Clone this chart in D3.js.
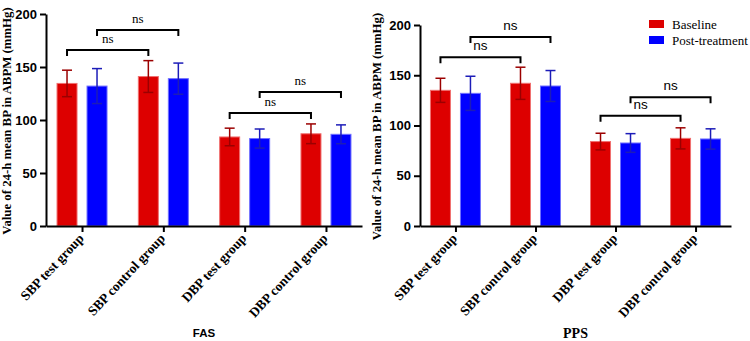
<!DOCTYPE html>
<html>
<head>
<meta charset="utf-8">
<script src="https://cdn.jsdelivr.net/npm/d3@7"></script>
<style>
  html, body { margin: 0; padding: 0; background: #fff; }
  svg { display: block; }
</style>
</head>
<body>
<svg id="chart" width="750" height="341"></svg>
<script>
// ---- data ----
const categories = ["SBP test group", "SBP control group", "DBP test group", "DBP control group"];
const seriesNames = ["Baseline", "Post-treatment"];
const yTicks = [0, 50, 100, 150, 200];

const fasBaseline = [134.5, 141, 84, 87];
const fasBaselineErr = [12.5, 15, 8.3, 9.3];
const fasPost = [132, 139, 82.5, 86.5];
const fasPostErr = [16.5, 14.7, 9, 8.9];
const fasBrackets = [[0, 0, 1, 0, 166], [0, 1, 1, 1, 185], [2, 0, 3, 0, 106.6], [2, 1, 3, 1, 126.4]];

const ppsBaseline = [135, 142, 84, 87.2];
const ppsBaselineErr = [12, 16, 8.3, 10.5];
const ppsPost = [132, 139.3, 82.6, 86.6];
const ppsPostErr = [17, 15.4, 9.3, 10.1];
const ppsBrackets = [[0, 0, 1, 0, 168], [0, 1, 1, 1, 188], [2, 0, 3, 0, 109.7], [2, 1, 3, 1, 128]];

const yTitle = "Value of 24-h mean BP in ABPM (mmHg)";
const sigLabel = "ns";

// ---- styles ----
const SERIF = "'Liberation Serif', 'Times New Roman', serif";
const SANS = "'Liberation Sans', Arial, sans-serif";
const fills = ["#dd0000", "#0000ff"];
const strokes = ["#f07070", "#7070ff"];
const errColors = ["#9b0000", "#1c1cb8"];

const svg = d3.select("#chart");

const panels = [
  { name: "FAS", base: fasBaseline, baseErr: fasBaselineErr, post: fasPost, postErr: fasPostErr, brackets: fasBrackets,
    x0: 46, x1: 362, yTop: 14, yBot: 226, titleX: 11, nsFont: SERIF, nsSize: 13,
    xTitleFont: SANS, xTitleSize: 11.5, xTitleY: 337 },
  { name: "PPS", base: ppsBaseline, baseErr: ppsBaselineErr, post: ppsPost, postErr: ppsPostErr, brackets: ppsBrackets,
    x0: 420, x1: 731, yTop: 25, yBot: 226, titleX: 381, nsFont: SANS, nsSize: 13.5,
    xTitleFont: SERIF, xTitleSize: 14, xTitleY: 338 }
];

panels.forEach(p => {
  const g = svg.append("g");
  const x = d3.scalePoint().domain(categories).range([p.x0, p.x1]).padding(0.443);
  const sub = d3.scaleBand().domain(seriesNames).range([-25, 25]).paddingInner(1 / 3).paddingOuter(0);
  const y = d3.scaleLinear().domain([0, 200]).range([p.yBot, p.yTop]);

  const rows = [];
  categories.forEach((c, i) => {
    rows.push({ cat: c, s: 0, v: p.base[i], e: p.baseErr[i] });
    rows.push({ cat: c, s: 1, v: p.post[i], e: p.postErr[i] });
  });

  // bars
  g.selectAll("rect.bar").data(rows).join("rect")
    .attr("class", "bar")
    .attr("x", d => x(d.cat) + sub(seriesNames[d.s]))
    .attr("width", sub.bandwidth())
    .attr("y", d => y(d.v))
    .attr("height", d => y(0) - y(d.v))
    .attr("fill", d => fills[d.s])
    .attr("stroke", d => strokes[d.s])
    .attr("stroke-width", 1);

  // error bars
  const cx = d => x(d.cat) + sub(seriesNames[d.s]) + sub.bandwidth() / 2;
  const eg = g.selectAll("g.err").data(rows).join("g").attr("class", "err")
    .attr("stroke", d => errColors[d.s]).attr("stroke-width", 1.5);
  eg.append("line").attr("x1", cx).attr("x2", cx).attr("y1", d => y(d.v - d.e)).attr("y2", d => y(d.v + d.e));
  eg.append("line").attr("x1", d => cx(d) - 5).attr("x2", d => cx(d) + 5).attr("y1", d => y(d.v + d.e)).attr("y2", d => y(d.v + d.e));
  eg.append("line").attr("x1", d => cx(d) - 5).attr("x2", d => cx(d) + 5).attr("y1", d => y(d.v - d.e)).attr("y2", d => y(d.v - d.e));

  // y axis
  const ya = g.append("g").attr("transform", `translate(${p.x0},0)`)
    .call(d3.axisLeft(y).tickValues(yTicks).tickSize(6).tickSizeOuter(0).tickPadding(3));
  ya.select(".domain").attr("stroke", "#000").attr("stroke-width", 2);
  ya.selectAll(".tick line").attr("stroke", "#000").attr("stroke-width", 2);
  ya.selectAll(".tick text").attr("font-family", SANS).attr("font-weight", "bold").attr("font-size", 13).attr("fill", "#000");

  // x axis
  const xa = g.append("g").attr("transform", `translate(0,${p.yBot})`)
    .call(d3.axisBottom(x).tickSize(6).tickSizeOuter(0));
  xa.select(".domain").attr("stroke", "#000").attr("stroke-width", 2);
  xa.selectAll(".tick line").attr("stroke", "#000").attr("stroke-width", 2);
  xa.selectAll(".tick text")
    .attr("font-family", SERIF).attr("font-weight", "bold").attr("font-size", 13.5).attr("fill", "#000")
    .attr("text-anchor", "end")
    .attr("x", 0).attr("y", 0).attr("dy", 0)
    .attr("transform", "translate(2,13) rotate(-47)");

  // y title
  g.append("text")
    .attr("transform", `translate(${p.titleX},${(p.yTop + p.yBot) / 2 + 1}) rotate(-90)`)
    .attr("text-anchor", "middle")
    .attr("font-family", SERIF).attr("font-weight", "bold").attr("font-size", 12.8)
    .text(yTitle);

  // x title
  g.append("text")
    .attr("x", (p.x0 + p.x1) / 2).attr("y", p.xTitleY)
    .attr("text-anchor", "middle")
    .attr("font-family", p.xTitleFont).attr("font-weight", "bold").attr("font-size", p.xTitleSize)
    .text(p.name);

  // significance brackets
  const bx = (ci, si) => x(categories[ci]) + sub(seriesNames[si]) + sub.bandwidth() / 2;
  const bg = g.selectAll("g.br").data(p.brackets).join("g").attr("class", "br");
  bg.append("path")
    .attr("d", b => {
      const xa1 = bx(b[0], b[1]), xa2 = bx(b[2], b[3]), yy = y(b[4]);
      return `M${xa1},${yy + 6}V${yy}H${xa2}V${yy + 6}`;
    })
    .attr("fill", "none").attr("stroke", "#000").attr("stroke-width", 2);
  bg.append("text")
    .attr("x", b => (bx(b[0], b[1]) + bx(b[2], b[3])) / 2)
    .attr("y", b => y(b[4]) - 7)
    .attr("text-anchor", "middle")
    .attr("font-family", p.nsFont).attr("font-size", p.nsSize)
    .text(sigLabel);
});

// legend
const lg = svg.append("g").attr("transform", "translate(649,20)");
seriesNames.forEach((s, i) => {
  lg.append("rect").attr("x", 0).attr("y", i * 16).attr("width", 15).attr("height", 8).attr("fill", fills[i]);
  lg.append("text").attr("x", 23).attr("y", i * 16 + 8.5)
    .attr("font-family", SERIF).attr("font-size", 13).text(s);
});
</script>
</body>
</html>
